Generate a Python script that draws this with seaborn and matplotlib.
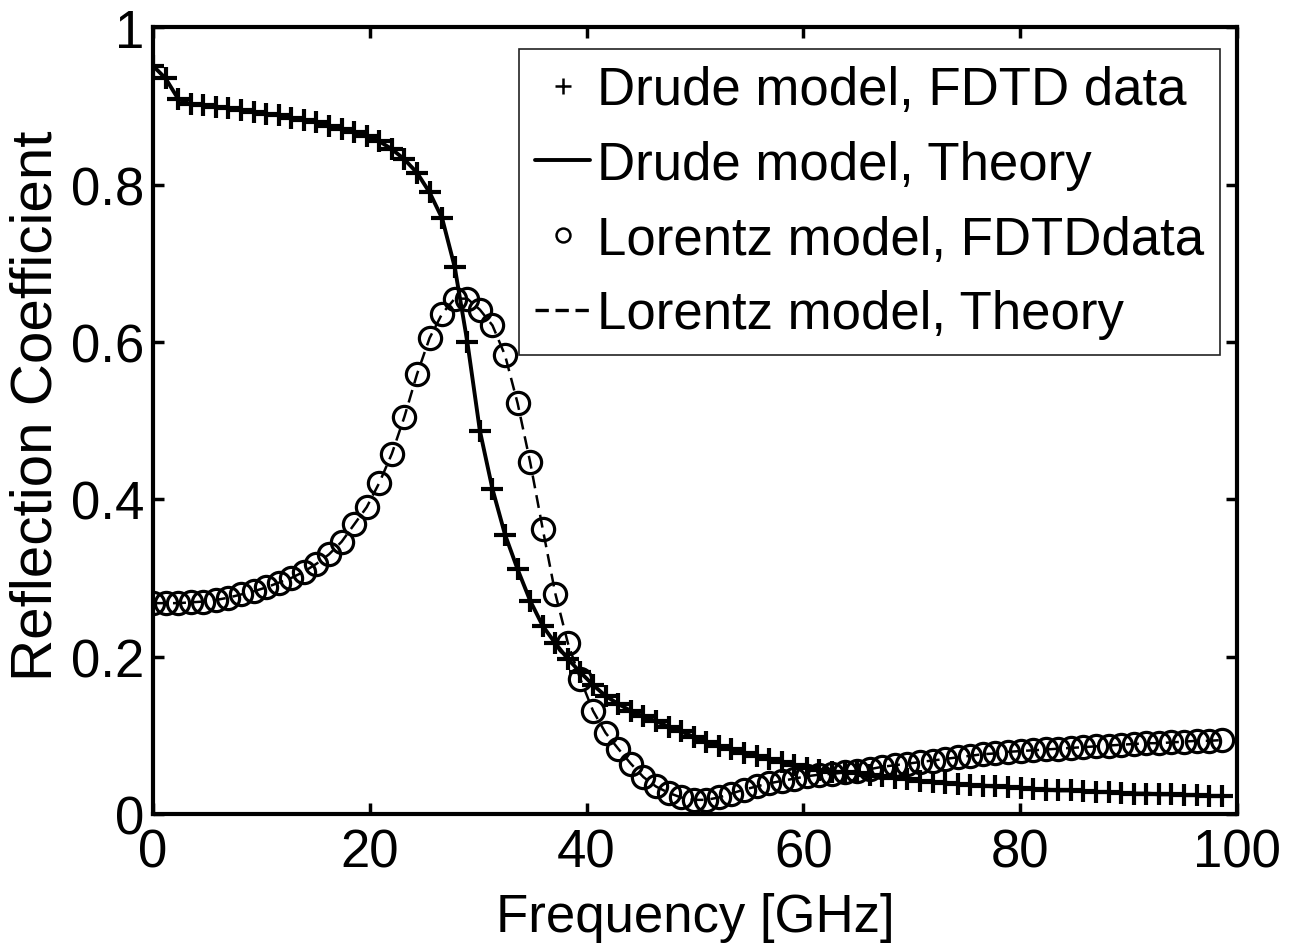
import numpy as np
import pandas as pd
import matplotlib
matplotlib.use("Agg")
import matplotlib.pyplot as plt
from matplotlib.lines import Line2D
import seaborn as sns

# ---- data ----
freq = [0.00, 1.16, 2.32, 3.48, 4.64, 5.80, 6.96, 8.12, 9.28, 10.44,
        11.60, 12.76, 13.92, 15.08, 16.24, 17.40, 18.56, 19.72, 20.88, 22.04,
        23.20, 24.36, 25.52, 26.68, 27.84, 29.00, 30.16, 31.32, 32.48, 33.64,
        34.80, 35.96, 37.12, 38.28, 39.44, 40.60, 41.76, 42.92, 44.08, 45.24,
        46.40, 47.56, 48.72, 49.88, 51.04, 52.20, 53.36, 54.52, 55.68, 56.84,
        58.00, 59.16, 60.32, 61.48, 62.64, 63.80, 64.96, 66.12, 67.28, 68.44,
        69.60, 70.76, 71.92, 73.08, 74.24, 75.40, 76.56, 77.72, 78.88, 80.04,
        81.20, 82.36, 83.52, 84.68, 85.84, 87.00, 88.16, 89.32, 90.48, 91.64,
        92.80, 93.96, 95.12, 96.28, 97.44, 98.60]

drude = [0.951, 0.935, 0.909, 0.902, 0.901, 0.899, 0.897, 0.895, 0.892, 0.890,
         0.888, 0.885, 0.882, 0.879, 0.875, 0.871, 0.867, 0.862, 0.855, 0.845,
         0.832, 0.815, 0.790, 0.757, 0.695, 0.600, 0.487, 0.413, 0.355, 0.311,
         0.271, 0.239, 0.217, 0.197, 0.180, 0.164, 0.150, 0.140, 0.131, 0.124,
         0.118, 0.111, 0.105, 0.098, 0.092, 0.087, 0.082, 0.078, 0.074, 0.070,
         0.066, 0.062, 0.059, 0.056, 0.054, 0.053, 0.052, 0.050, 0.048, 0.046,
         0.044, 0.042, 0.041, 0.040, 0.038, 0.037, 0.036, 0.035, 0.034, 0.033,
         0.032, 0.031, 0.030, 0.030, 0.029, 0.028, 0.028, 0.027, 0.026, 0.026,
         0.025, 0.025, 0.024, 0.024, 0.023, 0.023]

lorentz = [0.268, 0.268, 0.268, 0.269, 0.270, 0.272, 0.275, 0.279, 0.283, 0.288,
           0.294, 0.300, 0.308, 0.318, 0.330, 0.346, 0.368, 0.390, 0.421, 0.458,
           0.505, 0.559, 0.605, 0.636, 0.655, 0.655, 0.641, 0.621, 0.583, 0.522,
           0.447, 0.362, 0.280, 0.217, 0.171, 0.131, 0.103, 0.083, 0.064, 0.047,
           0.035, 0.027, 0.021, 0.018, 0.018, 0.021, 0.026, 0.031, 0.035, 0.039,
           0.042, 0.045, 0.048, 0.050, 0.051, 0.053, 0.055, 0.057, 0.060, 0.062,
           0.064, 0.066, 0.068, 0.070, 0.072, 0.074, 0.076, 0.077, 0.079, 0.080,
           0.081, 0.082, 0.083, 0.084, 0.085, 0.086, 0.087, 0.088, 0.089, 0.090,
           0.090, 0.091, 0.092, 0.093, 0.093, 0.094]

labels = ["Drude model, FDTD data", "Drude model, Theory",
          "Lorentz model, FDTDdata", "Lorentz model, Theory"]
xticks = [0, 20, 40, 60, 80, 100]
yticks = [0, 0.2, 0.4, 0.6, 0.8, 1.0]
yticklabels = ["0", "0.2", "0.4", "0.6", "0.8", "1"]

# ---- style ----
sns.set_theme(style="white")
plt.rcParams["font.family"] = ["Liberation Sans", "DejaVu Sans"]
plt.rcParams["text.color"] = "black"
plt.rcParams["axes.labelcolor"] = "black"
plt.rcParams["xtick.color"] = "black"
plt.rcParams["ytick.color"] = "black"
FS = 38

fig = plt.figure(figsize=(13.03, 9.53), dpi=100)
ax = fig.add_axes([0.1174, 0.1448, 0.8319, 0.8256])

df = pd.DataFrame({"freq": freq, "drude": drude, "lorentz": lorentz})

sns.lineplot(data=df, x="freq", y="drude", ax=ax, color="black",
             linewidth=2.8, sort=False)
sns.lineplot(data=df, x="freq", y="drude", ax=ax, color="black",
             linestyle="none", marker="+", markersize=16,
             markeredgecolor="black", markeredgewidth=3.0, sort=False)
sns.lineplot(data=df, x="freq", y="lorentz", ax=ax, color="black",
             linewidth=1.8, dashes=(5.2, 2.8), sort=False)
sns.lineplot(data=df, x="freq", y="lorentz", ax=ax, color="black",
             linestyle="none", marker="o", markersize=16,
             markerfacecolor="none", markeredgecolor="black",
             markeredgewidth=2.3, sort=False)

ax.set_xlim(0, 100)
ax.set_ylim(0, 1)
ax.set_xticks(xticks)
ax.set_xticklabels([str(t) for t in xticks])
ax.set_yticks(yticks)
ax.set_yticklabels(yticklabels)
ax.tick_params(axis="both", which="both", direction="in", length=8,
               width=2.5, labelsize=FS, colors="black",
               top=True, right=True, bottom=True, left=True)
ax.tick_params(axis="x", pad=10)
ax.tick_params(axis="y", pad=6)
for s in ax.spines.values():
    s.set_linewidth(3)
    s.set_color("black")
    s.set_visible(True)

ax.set_xlabel("Frequency [GHz]", fontsize=FS, color="black", labelpad=10)
ax.set_ylabel("Reflection Coefficient", fontsize=42, color="black")
ax.yaxis.set_label_coords(-0.083, 0.52)

handles = [
    Line2D([], [], color="black", linestyle="none", marker="+",
           markersize=11, markeredgewidth=1.8),
    Line2D([], [], color="black", linewidth=2.8),
    Line2D([], [], color="black", linestyle="none", marker="o",
           markersize=10, markerfacecolor="none", markeredgewidth=1.8),
    Line2D([], [], color="black", linewidth=2.4, dashes=(4, 2)),
]
leg = ax.legend(handles, labels, loc="upper right",
                bbox_to_anchor=(0.984, 0.972), borderaxespad=0,
                fontsize=FS, frameon=True, fancybox=False,
                handlelength=1.05, handletextpad=0.12, labelspacing=0.47,
                borderpad=0.3)
leg.get_frame().set_edgecolor("#222222")
leg.get_frame().set_linewidth(1.2)
leg.get_frame().set_alpha(1)

fig.savefig("out.png", dpi=100, facecolor="white")
